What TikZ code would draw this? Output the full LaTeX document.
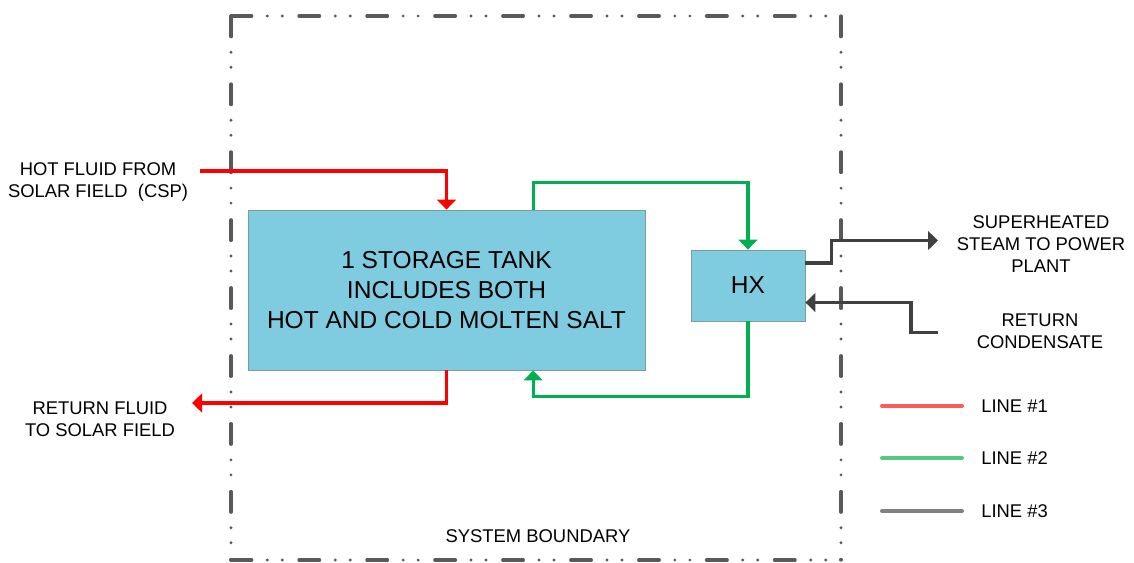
\documentclass[tikz,border=0pt]{standalone}
\usepackage{fontspec}
\setmainfont{Liberation Sans}
\usetikzlibrary{arrows.meta,positioning,calc}
\definecolor{sb-hot}{HTML}{FF0000}
\definecolor{sb-loop}{HTML}{00B050}
\definecolor{sb-steam}{HTML}{404040}
\definecolor{sb-tank}{HTML}{7FCCE0}
\definecolor{sb-edge}{HTML}{7F9AA5}
\definecolor{sb-bound}{HTML}{595959}
\definecolor{lg-hot}{HTML}{FF5A5A}
\definecolor{lg-loop}{HTML}{55C985}
\definecolor{lg-steam}{HTML}{808080}
\tikzset{txt/.style={align=center,font=\fontsize{13.8pt}{16.5pt}\selectfont,inner sep=0pt}}

\begin{document}
\begin{tikzpicture}[
    x=0.75pt, y=-0.75pt,
    >={Triangle[length=7.5pt,width=14pt]}
  ]

  % Styles
  \tikzset{
    unit/.style={draw=sb-edge, line width=0.6pt, fill=sb-tank, align=center, inner sep=0pt},
    flow/.style={->, line width=2.4pt},
    hotline/.style={flow, sb-hot},
    loopline/.style={flow, sb-loop},
    steamline/.style={flow, sb-steam},
    legline/.style={line width=3pt, line cap=round},
    bound/.style={sb-bound, line width=2.4pt, line cap=round,
      dash pattern=on 15.5pt off 11.7pt on 0pt off 11.25pt on 0pt off 12.5pt}
  }

  \useasboundingbox (0,0) rectangle (1134,562);

  % System boundary
  \draw[bound] (231,16) -- (841,16);
  \draw[bound] (231,560) -- (841,560);
  \draw[bound] (231,16) -- (231,560);
  \draw[bound] (841,16) -- (841,560);
  \node (bndlabel) [txt] at (538,536) {SYSTEM BOUNDARY};

  % Storage tank and heat exchanger
  \node (tank) [unit, minimum width=297.75pt, minimum height=120pt,
    font=\fontsize{18.4pt}{22.5pt}\selectfont] at (446.5,290)
    {1 STORAGE TANK\\INCLUDES BOTH\\HOT AND COLD MOLTEN SALT};
  \node (hx) [unit, minimum width=85.5pt, minimum height=53.25pt,
    font=\fontsize{18.4pt}{22.5pt}\selectfont] at (748,285.5) {HX};

  % Outside labels
  \node (hotlabel)  [txt] at (98,182)   {HOT FLUID FROM\\SOLAR FIELD\ \ (CSP)};
  \node (retlabel)  [txt] at (100,419)  {RETURN FLUID\\TO SOLAR FIELD};
  \node (steamlabel)[txt] at (1041,244) {SUPERHEATED\\STEAM TO POWER\\PLANT};
  \node (condlabel) [txt] at (1040,331) {RETURN\\CONDENSATE};

  \coordinate (hotin)   at (200,171);
  \coordinate (retout)  at (192,403);
  \coordinate (steamout) at (938,240.5);
  \coordinate (condin)  at (938,332.5);

  % Line #1
  \draw[hotline] (hotin) -| (tank.north);
  \draw[hotline] (tank.south) |- (retout);

  % Line #2
  \draw[loopline] ([xshift=65pt]tank.north) -- ++(0,-27) -| (hx.north);
  \draw[loopline] (hx.south) -- ++(0,75) -| ([xshift=65pt]tank.south);

  % Line #3
  \draw[steamline] ([yshift=16.9pt]hx.east) -- ++(26,0) |- (steamout);
  \draw[steamline] (condin) -- ++(-27,0) |- ([yshift=-12.75pt]hx.east);

  % Legend
  \node (leg1) [txt, anchor=west] at (981,406) {LINE \#1};
  \node (leg2) [txt, anchor=west] at (981,458) {LINE \#2};
  \node (leg3) [txt, anchor=west] at (981,511) {LINE \#3};
  \draw[legline, lg-hot]   ([xshift=-14.25pt]leg1.west) -- ++(-80,0);
  \draw[legline, lg-loop]  ([xshift=-14.25pt]leg2.west) -- ++(-80,0);
  \draw[legline, lg-steam] ([xshift=-14.25pt]leg3.west) -- ++(-80,0);

\end{tikzpicture}
\end{document}
